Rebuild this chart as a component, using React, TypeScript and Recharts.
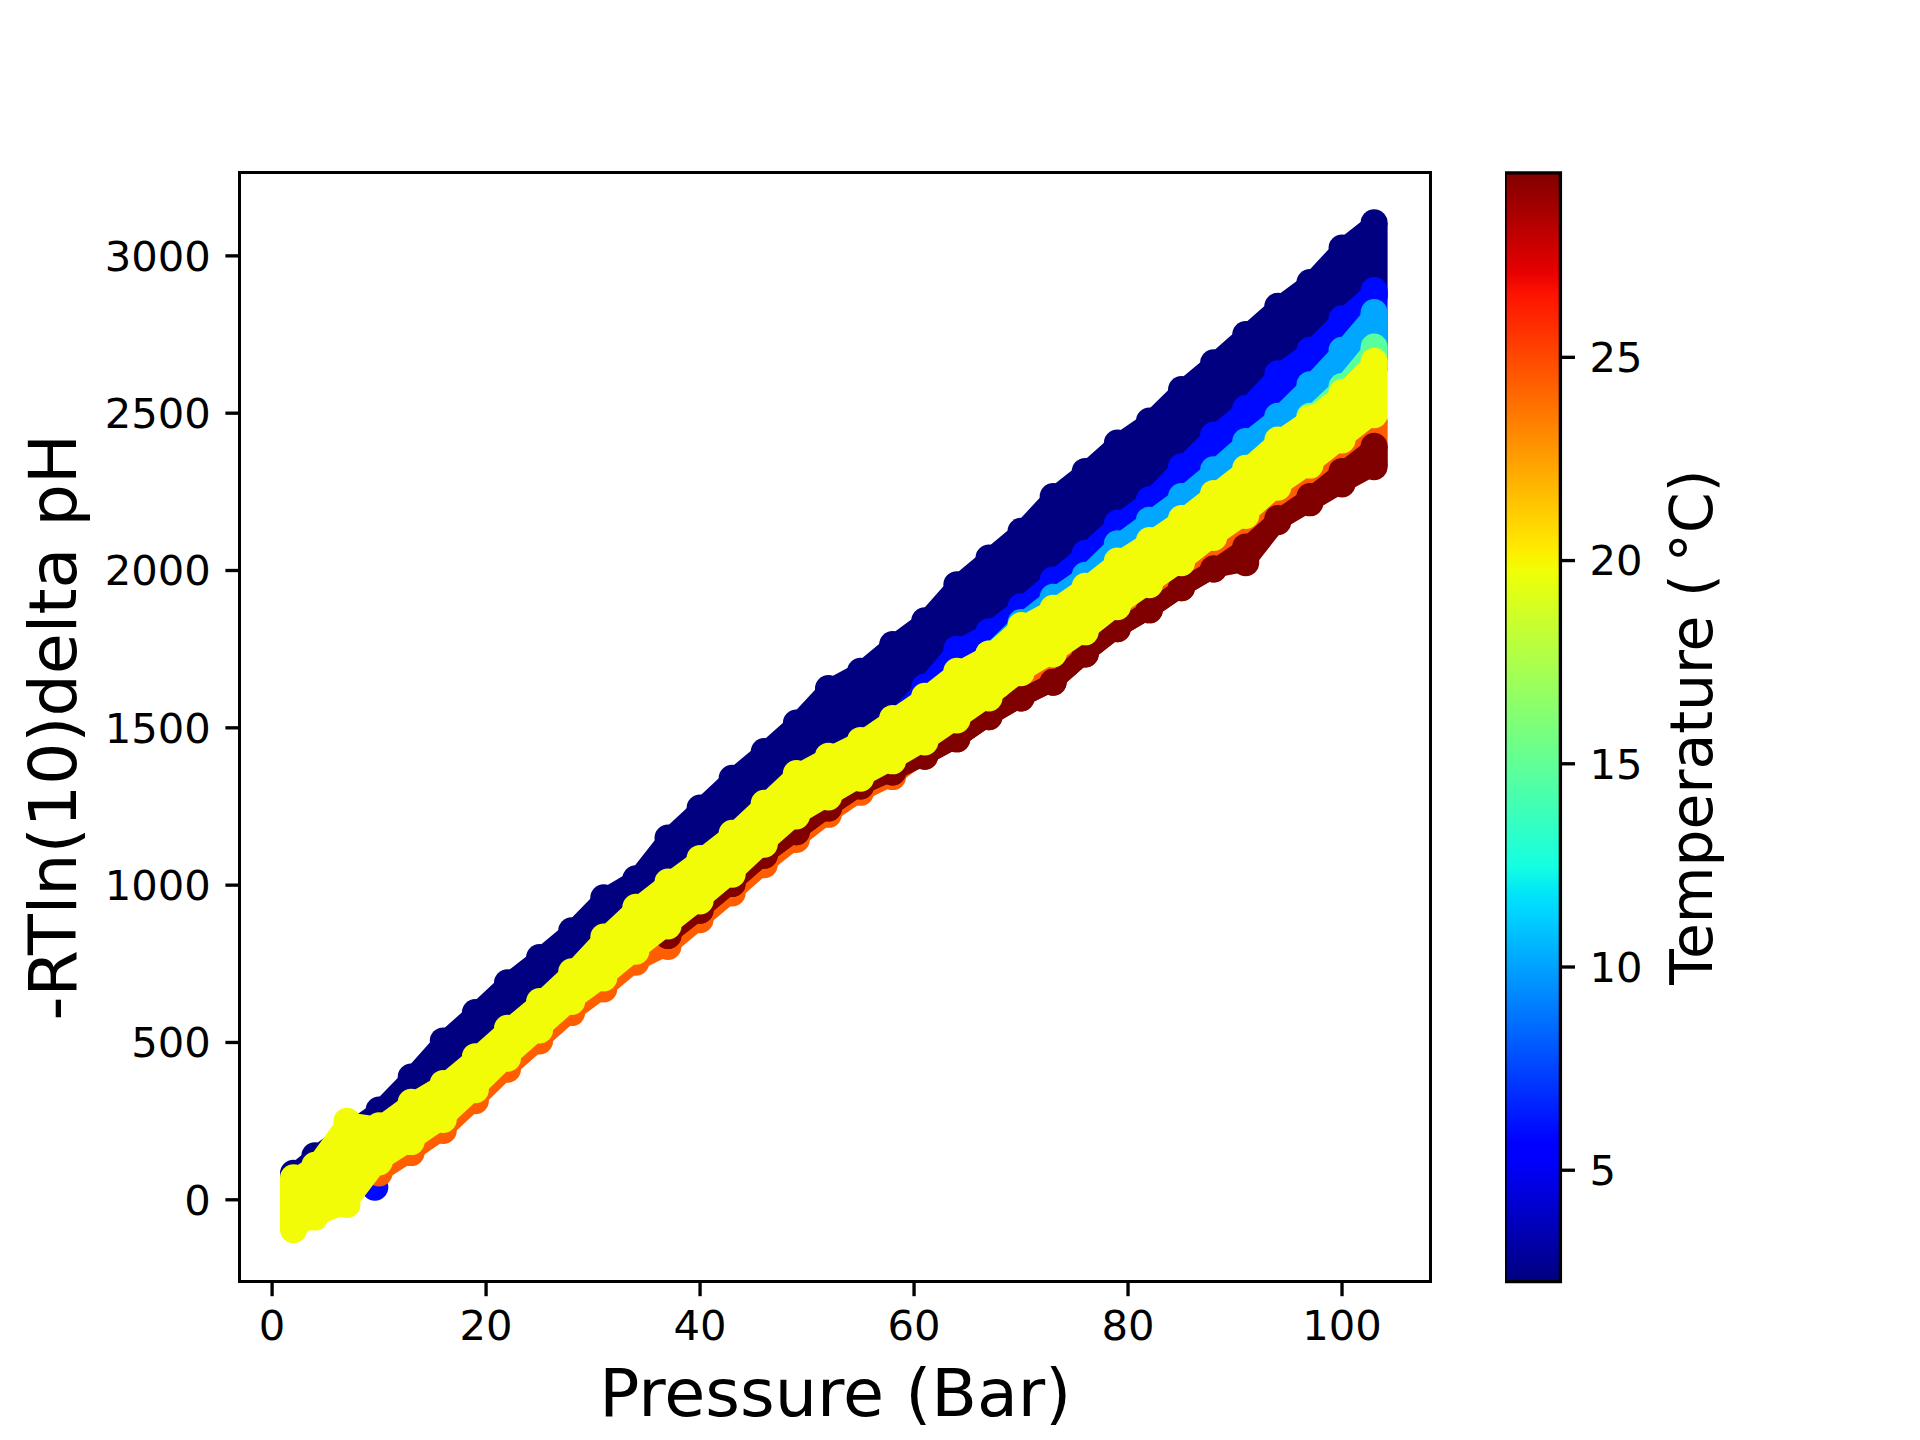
import React from 'react';
import { ComposedChart, Area, Line, Scatter, XAxis, YAxis, ReferenceArea } from 'recharts';

// ---------- data ----------
const pressure = [2, 4, 7, 10, 13, 16, 19, 22, 25, 28, 31, 34, 37, 40, 43, 46, 49, 52, 55, 58, 61, 64, 67, 70, 73, 76, 79, 82, 85, 88, 91, 94, 97, 100, 103];

const navyHi = [84, 140, 215, 285, 390, 505, 595, 690, 770, 855, 960, 1020, 1150, 1245, 1340, 1425, 1515, 1625, 1680, 1765, 1840, 1955, 2040, 2125, 2235, 2315, 2405, 2475, 2575, 2660, 2750, 2840, 2915, 3025, 3105];
const navyLo = [50, 90, 190, 215, 290, 350, 435, 525, 610, 705, 815, 910, 990, 1065, 1145, 1240, 1335, 1390, 1440, 1500, 1610, 1730, 1785, 1865, 1950, 2035, 2130, 2205, 2310, 2410, 2495, 2605, 2680, 2780, 2870];

const yellowHi = [70, 110, 250, 235, 310, 370, 455, 545, 630, 725, 835, 930, 1010, 1085, 1165, 1260, 1355, 1410, 1460, 1530, 1600, 1680, 1735, 1825, 1880, 1950, 2030, 2095, 2165, 2245, 2325, 2415, 2485, 2565, 2665];
const yellowLo = [-95, -55, -15, 120, 185, 255, 350, 450, 540, 630, 705, 790, 870, 950, 1035, 1130, 1220, 1280, 1340, 1395, 1455, 1525, 1595, 1675, 1735, 1805, 1885, 1955, 2025, 2105, 2175, 2265, 2335, 2415, 2495];

const bluePressure = [58, 61, 64, 67, 70, 73, 76, 79, 82, 85, 88, 91, 94, 97, 100, 103];
const blueHi = [1520, 1630, 1750, 1805, 1885, 1970, 2055, 2150, 2225, 2330, 2430, 2515, 2625, 2700, 2800, 2890];
const blueLo = [1510, 1580, 1660, 1715, 1805, 1860, 1930, 2010, 2075, 2145, 2225, 2305, 2395, 2465, 2545, 2645];
const blueBlobPressure = [9.6];
const blueBlobValue = [40];

const lightBluePressure = [67, 70, 73, 76, 79, 82, 85, 88, 91, 94, 97, 100, 103];
const lightBlueHi = [1735, 1835, 1915, 1985, 2085, 2160, 2235, 2320, 2410, 2490, 2590, 2700, 2820];
const lightBlueLo = [1715, 1805, 1860, 1930, 2010, 2075, 2145, 2225, 2305, 2395, 2465, 2545, 2645];

const greenPressure = [97, 100, 103];
const greenHi = [2490, 2585, 2710];
const greenLo = [2465, 2545, 2645];

const orangePressure = [10, 13, 16, 19, 22, 25, 28, 31, 34, 37, 40, 43, 46, 49, 52, 55, 58, 61, 64, 67, 70, 73, 76, 79, 82, 85, 88, 91, 94, 97, 100, 103];
const orangeHi = [100, 165, 235, 330, 430, 520, 610, 685, 770, 850, 930, 1015, 1110, 1200, 1260, 1320, 1375, 1435, 1505, 1575, 1655, 1715, 1785, 1865, 1935, 2005, 2085, 2155, 2245, 2315, 2395, 2475];
const orangeLo = [85, 150, 220, 315, 415, 505, 595, 670, 755, 805, 890, 975, 1065, 1145, 1225, 1295, 1345, 1420, 1475, 1545, 1605, 1655, 1745, 1825, 1885, 1955, 2015, 2035, 2165, 2225, 2285, 2340];

const darkRedPressure = [37, 40, 43, 46, 49, 52, 55, 58, 61, 64, 67, 70, 73, 76, 79, 82, 85, 88, 91, 94, 97, 100, 103];
const darkRedHi = [840, 920, 1005, 1095, 1170, 1245, 1315, 1360, 1410, 1465, 1535, 1595, 1645, 1735, 1815, 1875, 1945, 2005, 2075, 2165, 2235, 2315, 2395];
const darkRedLo = [840, 920, 1005, 1095, 1170, 1245, 1315, 1360, 1410, 1465, 1535, 1595, 1645, 1735, 1815, 1875, 1945, 2005, 2025, 2155, 2215, 2275, 2330];

// temperatures (°C) of each group, in drawing order
const bandNames = ['navy', 'blue', 'lightBlue', 'green', 'orange', 'darkRed', 'yellow'];
const bandTemperatures = [2.26, 5.9, 10.1, 14.8, 24.36, 29.54, 19.8];

const xTicks = [0, 20, 40, 60, 80, 100];
const yTicks = [0, 500, 1000, 1500, 2000, 2500, 3000];
const colorbarTicks = [5, 10, 15, 20, 25];
const xDomain: [number, number] = [-3, 108.26];
const yDomain: [number, number] = [-260, 3264];
const tDomain: [number, number] = [2.26, 29.54];

// ---------- jet colormap ----------
function interp(t: number, xs: number[], ys: number[]) {
  if (t <= xs[0]) return ys[0];
  for (let i = 1; i < xs.length; i++) {
    if (t <= xs[i]) {
      const f = (t - xs[i - 1]) / (xs[i] - xs[i - 1]);
      return ys[i - 1] + f * (ys[i] - ys[i - 1]);
    }
  }
  return ys[ys.length - 1];
}
function jet(t: number) {
  const r = interp(t, [0, 0.35, 0.66, 0.89, 1], [0, 0, 1, 1, 0.5]);
  const g = interp(t, [0, 0.125, 0.375, 0.64, 0.91, 1], [0, 0, 1, 1, 0, 0]);
  const b = interp(t, [0, 0.11, 0.34, 0.65, 1], [0.5, 1, 1, 0, 0]);
  return `rgb(${Math.round(r * 255)},${Math.round(g * 255)},${Math.round(b * 255)})`;
}
const tempColor = (T: number) => jet((T - tDomain[0]) / (tDomain[1] - tDomain[0]));
const gradientStops = [0, 0.11, 0.125, 0.34, 0.35, 0.375, 0.64, 0.65, 0.66, 0.89, 0.91, 1];

// ---------- layout ----------
const W = 1920;
const H = 1440;
const PLOT_LEFT = 240;
const PLOT_TOP = 172.8;
const PLOT_RIGHT = 1430.4;
const PLOT_BOTTOM = 1281.6;
const LW = 3.33;
const FONT = 'DejaVu Sans';
const TICK_FONT = 41.7;
const DOT_R = 13.5;

type BandDef = { p: number[]; hi: number[]; lo: number[]; extraP?: number[]; extraV?: number[] };
const bandData: Record<string, BandDef> = {
  navy: { p: pressure, hi: navyHi, lo: navyLo },
  blue: { p: bluePressure, hi: blueHi, lo: blueLo, extraP: blueBlobPressure, extraV: blueBlobValue },
  lightBlue: { p: lightBluePressure, hi: lightBlueHi, lo: lightBlueLo },
  green: { p: greenPressure, hi: greenHi, lo: greenLo },
  orange: { p: orangePressure, hi: orangeHi, lo: orangeLo },
  darkRed: { p: darkRedPressure, hi: darkRedHi, lo: darkRedLo },
  yellow: { p: pressure, hi: yellowHi, lo: yellowLo },
};

const makeDot = (color: string) => (props: any) => {
  if (props.cx == null || props.cy == null) return <g />;
  return <circle cx={props.cx} cy={props.cy} r={DOT_R} fill={color} />;
};
const emptyShape = () => <g />;

function BandChart({ def, color, showAxes }: { def: BandDef; color: string; showAxes: boolean }) {
  const rows = def.p.map((p, i) => ({ p, hi: def.hi[i], lo: def.lo[i] }));
  const first = rows[0];
  const last = rows[rows.length - 1];
  const capL = [{ p: first.p, v: first.lo }, { p: first.p, v: first.hi }];
  const capR = [{ p: last.p, v: last.lo }, { p: last.p, v: last.hi }];
  const extra = (def.extraP || []).map((p, i) => ({ p, v: (def.extraV || [])[i] }));
  const margin = showAxes
    ? { top: PLOT_TOP, right: W - PLOT_RIGHT, bottom: H - PLOT_BOTTOM - 60, left: PLOT_LEFT - 100 }
    : { top: PLOT_TOP, right: W - PLOT_RIGHT, bottom: H - PLOT_BOTTOM, left: PLOT_LEFT };
  const dot = makeDot(color);
  return (
    <div style={{ position: 'absolute', left: 0, top: 0 }}>
      <ComposedChart width={W} height={H} data={rows} margin={margin}>
        <XAxis
          type="number"
          dataKey="p"
          domain={xDomain}
          ticks={xTicks}
          interval={0}
          allowDataOverflow
          hide={!showAxes}
          height={60}
          axisLine={false}
          tickSize={14.6}
          tickMargin={14.6}
          tickLine={{ stroke: '#000', strokeWidth: LW }}
          tick={{ fill: '#000', fontSize: TICK_FONT, fontFamily: FONT }}
        />
        <YAxis
          type="number"
          domain={yDomain}
          ticks={yTicks}
          interval={0}
          allowDataOverflow
          hide={!showAxes}
          width={100}
          axisLine={false}
          tickSize={14.6}
          tickMargin={14.6}
          tickLine={{ stroke: '#000', strokeWidth: LW }}
          tick={{ fill: '#000', fontSize: TICK_FONT, fontFamily: FONT }}
        />
        <Area
          type="linear"
          dataKey={(d: any) => [d.lo, d.hi]}
          stroke="none"
          fill={color}
          fillOpacity={1}
          dot={false}
          activeDot={false}
          isAnimationActive={false}
        />
        <Line type="linear" dataKey="hi" stroke={color} strokeWidth={18} strokeLinejoin="round" strokeLinecap="round" dot={false} activeDot={false} isAnimationActive={false} />
        <Line type="linear" dataKey="lo" stroke={color} strokeWidth={18} strokeLinejoin="round" strokeLinecap="round" dot={false} activeDot={false} isAnimationActive={false} />
        <Scatter dataKey="hi" fill={color} shape={dot} isAnimationActive={false} />
        <Scatter dataKey="lo" fill={color} shape={dot} isAnimationActive={false} />
        <Scatter data={capL} dataKey="v" fill={color} stroke={color} line={{ stroke: color, strokeWidth: 2 * DOT_R }} shape={emptyShape} isAnimationActive={false} />
        <Scatter data={capR} dataKey="v" fill={color} stroke={color} line={{ stroke: color, strokeWidth: 2 * DOT_R }} shape={emptyShape} isAnimationActive={false} />
        {extra.length > 0 && <Scatter data={extra} dataKey="v" fill={color} shape={dot} isAnimationActive={false} />}
      </ComposedChart>
    </div>
  );
}

const colorbarData = [{ x: 0, t: tDomain[0] }, { x: 1, t: tDomain[1] }];
const CB_LEFT = 1504.8;
const CB_WIDTH = 55.4;
const CB_AXIS_W = 204.6;

function Colorbar() {
  return (
    <div style={{ position: 'absolute', left: CB_LEFT, top: 0 }}>
      <ComposedChart
        width={CB_WIDTH + CB_AXIS_W}
        height={H}
        data={colorbarData}
        margin={{ top: PLOT_TOP, right: 0, bottom: H - PLOT_BOTTOM, left: 0 }}
      >
        <XAxis type="number" dataKey="x" domain={[0, 1]} hide allowDataOverflow />
        <YAxis
          type="number"
          dataKey="t"
          orientation="right"
          domain={tDomain}
          ticks={colorbarTicks}
          interval={0}
          allowDataOverflow
          width={CB_AXIS_W}
          axisLine={false}
          tickSize={14.6}
          tickMargin={14.6}
          tickLine={{ stroke: '#000', strokeWidth: LW }}
          tick={{ fill: '#000', fontSize: TICK_FONT, fontFamily: FONT }}
        />
        <Scatter dataKey="t" shape={emptyShape} isAnimationActive={false} />
        <ReferenceArea
          x1={0}
          x2={1}
          y1={tDomain[0]}
          y2={tDomain[1]}
          fill="url(#jetGrad)"
          fillOpacity={1}
          stroke="#000"
          strokeWidth={LW}
          ifOverflow="visible"
        />
      </ComposedChart>
    </div>
  );
}

export default function App() {
  return (
    <div style={{ position: 'absolute', left: 0, top: 0, width: W, height: H, background: '#fff', overflow: 'hidden' }}>
      <svg width={0} height={0} style={{ position: 'absolute' }}>
        <defs>
          <linearGradient id="jetGrad" x1="0" y1="1" x2="0" y2="0">
            {gradientStops.map((t) => (
              <stop key={t} offset={t} stopColor={jet(t)} />
            ))}
          </linearGradient>
        </defs>
      </svg>
      {bandNames.map((name, i) => (
        <BandChart key={name} def={bandData[name]} color={tempColor(bandTemperatures[i])} showAxes={i === 0} />
      ))}
      <div
        style={{
          position: 'absolute',
          left: PLOT_LEFT - LW / 2,
          top: PLOT_TOP - LW / 2,
          width: PLOT_RIGHT - PLOT_LEFT + LW,
          height: PLOT_BOTTOM - PLOT_TOP + LW,
          border: `${LW}px solid #000`,
          boxSizing: 'border-box',
          pointerEvents: 'none',
        }}
      />
      <Colorbar />
      <svg width={W} height={H} style={{ position: 'absolute', left: 0, top: 0, pointerEvents: 'none' }}>
        <text x={(PLOT_LEFT + PLOT_RIGHT) / 2} y={1416} textAnchor="middle" fontSize={66.7} fontFamily={FONT} fill="#000">
          Pressure (Bar)
        </text>
        <text x={76} y={727.2} transform="rotate(-90 76 727.2)" textAnchor="middle" fontSize={66.7} fontFamily={FONT} fill="#000">
          -RTln(10)delta pH
        </text>
        <text x={1711.7} y={727.2} transform="rotate(-90 1711.7 727.2)" textAnchor="middle" fontSize={58.3} fontFamily={FONT} fill="#000">
          Temperature (<tspan dx="12">°</tspan>C)
        </text>
      </svg>
    </div>
  );
}
